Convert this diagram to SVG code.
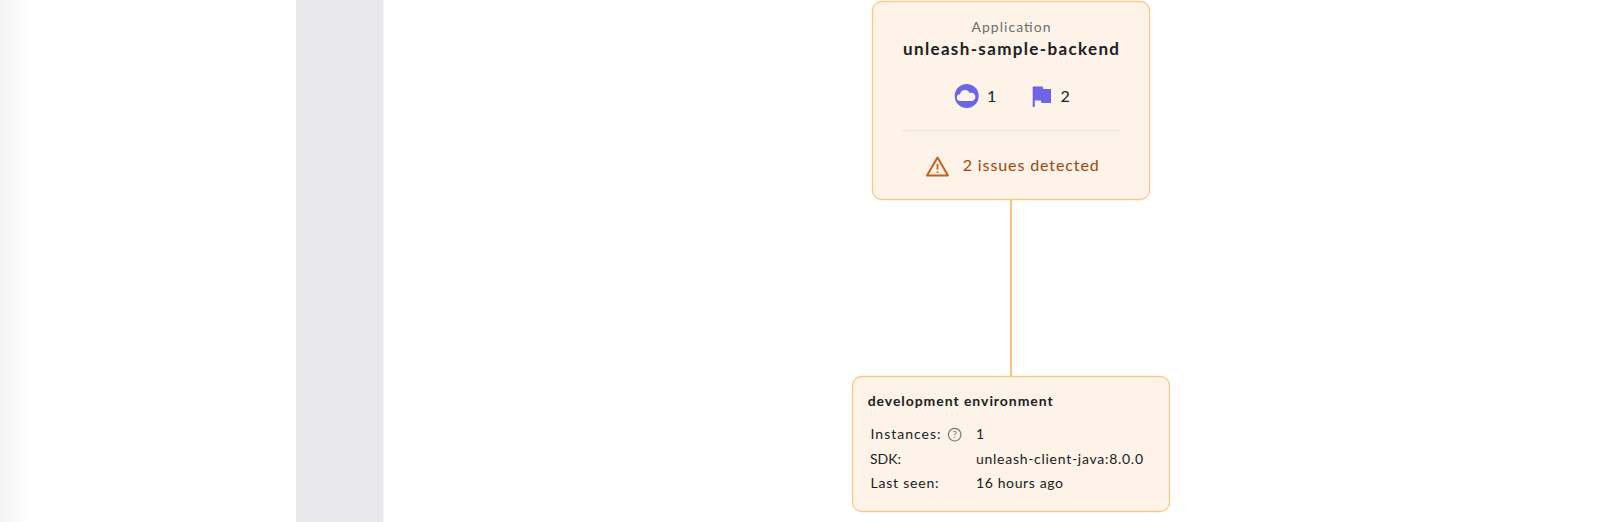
<svg xmlns="http://www.w3.org/2000/svg" width="1600" height="522" viewBox="0 0 1600 522">
<style>
text{font-family:"Lato","Noto Sans",sans-serif;font-size:14px;fill:#202021}
.card{fill:#fdf3e8;stroke:#f8c98a;stroke-width:1.3}
.h{font-weight:700}
.c{text-anchor:middle}
</style>
<defs><linearGradient id="edge" x1="0" x2="1" y1="0" y2="0"><stop offset="0" stop-color="#f4f4f4"/><stop offset="1" stop-color="#fff"/></linearGradient></defs>
<rect width="1600" height="522" fill="#fff"/>
<rect width="30" height="522" fill="url(#edge)"/>
<rect x="296" y="0" width="87" height="522" fill="#e9e9eb"/>
<rect x="383" y="0" width="1" height="522" fill="#f4f4f5"/>
<g id="connectors"><line x1="1011" y1="199" x2="1011" y2="376" stroke="#f8c07a" stroke-width="2"/></g>
<g id="application">
<rect class="card" x="872.5" y="1.5" width="277" height="198" rx="9"/>
<text x="1011" y="32" class="c" font-size="14" fill="#6e6e70" style="fill:#6e6e70" textLength="79">Application</text>
<text x="1011" y="55" class="c h" style="font-size:17px" textLength="216">unleash-sample-backend</text>
<circle cx="966.7" cy="96" r="12" fill="#6c65e5"/>
<path d="M960.5 101a3.4 3.4 0 0 1-.4-6.8a5 5 0 0 1 9.500-1.200a4 4 0 0 1 3 8z" fill="#fdf3e8"/>
<text x="987" y="101.500" style="font-size:16px">1</text>
<path d="M1032.700 86.500h10l.5 2.500h7.800v14h-9.500l-.5-2.500h-6.200v6.500h-2.100z" fill="#6c65e5"/>
<text x="1060.500" y="101.500" style="font-size:16px">2</text>
<line x1="902" y1="130.700" x2="1120" y2="130.700" stroke="#e2e2e6" stroke-width="1"/>
<path d="M937.500 157.500l10.500 18h-21z" fill="none" stroke="#c8601a" stroke-width="2" stroke-linejoin="round"/>
<path d="M937.500 164v5.500M937.500 171.500v1.500" stroke="#c8601a" stroke-width="1.800" fill="none"/>
<text x="962.700" y="171" style="font-size:16px;fill:#a0440e" textLength="136">2 issues detected</text>
</g>
<g id="environment">
<rect class="card" x="852.500" y="376.500" width="317" height="135" rx="9"/>
<text x="867.700" y="406" class="h" textLength="185">development environment</text>
<text x="870.500" y="439.300" textLength="70">Instances:</text>
<circle cx="954.700" cy="434.700" r="6.300" fill="none" stroke="#77777a" stroke-width="1.200"/>
<text x="954.700" y="438.300" class="c" style="font-size:10px;fill:#77777a">?</text>
<text x="976" y="439.300">1</text>
<text x="870" y="464">SDK:</text>
<text x="976" y="464" textLength="167">unleash-client-java:8.0.0</text>
<text x="870.500" y="488.300" textLength="68">Last seen:</text>
<text x="976" y="488.300" textLength="87">16 hours ago</text>
</g>
</svg>
